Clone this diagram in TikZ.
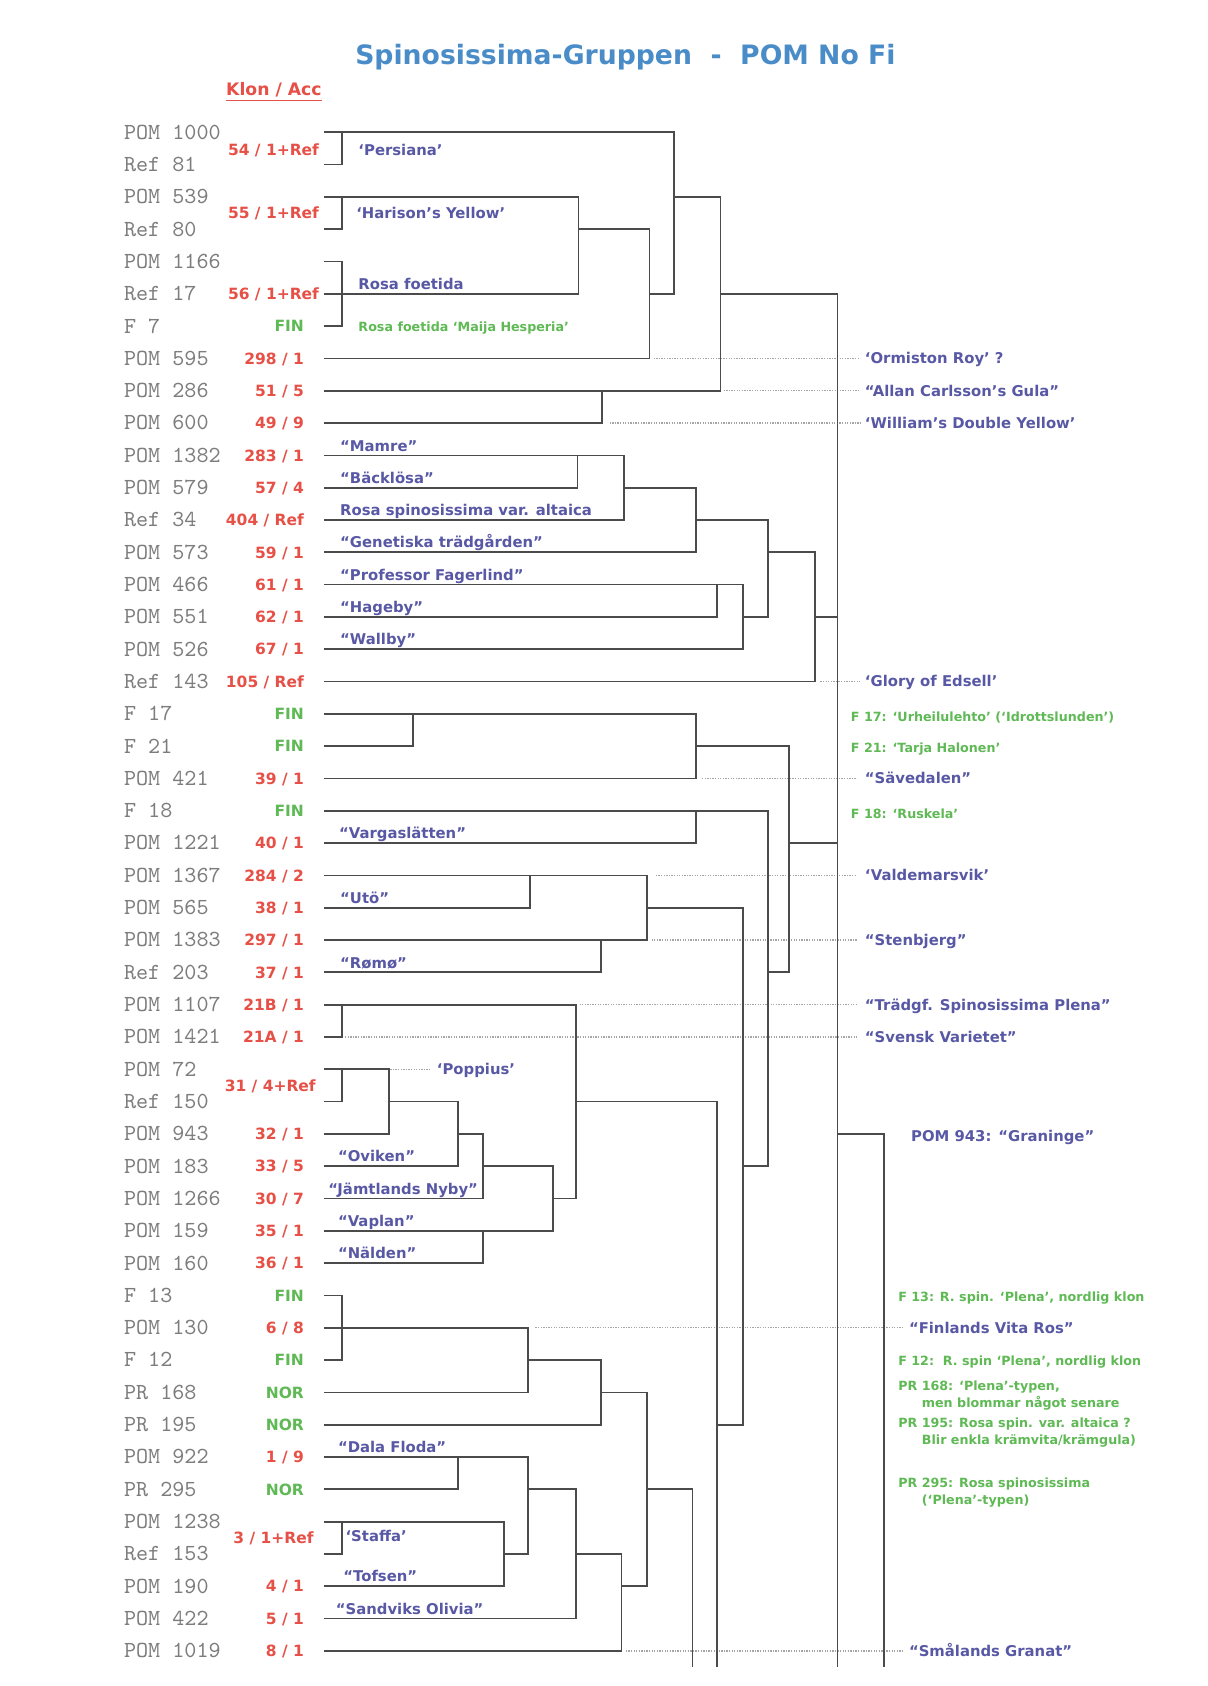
\documentclass[tikz,border=0pt]{standalone}
\usepackage{fontspec}
\setmainfont{DejaVu Sans}
\usepackage{tikz}
\definecolor{titleblue}{RGB}{74,140,200}
\definecolor{cvpurple}{RGB}{88,88,165}
\definecolor{accred}{RGB}{230,80,70}
\definecolor{fingreen}{RGB}{95,185,85}
\definecolor{leafgray}{RGB}{125,125,125}
\definecolor{linegray}{RGB}{75,75,75}
\definecolor{dotgray}{RGB}{165,165,165}

\begin{document}
\begin{tikzpicture}[x=0.5pt,y=-15.025pt,
  dline/.style={draw=linegray,line width=0.8pt},
  dotline/.style={draw=dotgray,line width=0.6pt,dash pattern=on 0.6pt off 0.6pt},
  leaflab/.style={anchor=west,inner sep=0pt,text=leafgray,font=\ttfamily\fontsize{10.7}{11}\selectfont,text height=6.4pt,text depth=0pt},
  acclab/.style={anchor=east,inner sep=0pt,text=accred,font=\bfseries\fontsize{7.2}{8}\selectfont,text height=5.3pt,text depth=0pt},
  finlab/.style={acclab,text=fingreen},
  cvlab/.style={anchor=west,inner sep=0pt,text=cvpurple,font=\bfseries\fontsize{6.9}{8}\selectfont,text height=5pt,text depth=0pt},
  notelab/.style={anchor=west,inner sep=0pt,text=fingreen,font=\bfseries\fontsize{5.9}{8}\selectfont,align=left}]

\useasboundingbox (0,-4.093) rectangle (1123,48.087);
\fill[white] (0,-4.093) rectangle (1123,48.087);

% Title
\node[anchor=west,inner sep=0pt,text=titleblue,font=\bfseries\fontsize{12.4}{14}\selectfont,text height=9pt,text depth=0pt] (title) at (330,-2.4) {Spinosissima-Gruppen\ \ -\ \ POM No Fi};
\node[anchor=base west,inner sep=0pt,text=accred,font=\bfseries\fontsize{8}{9}\selectfont] (hdr) at (210,-1.13) {\underline{Klon / Acc}};

%Dotted guide lines
\draw[dotline] (608,7) -- (800,7);
\draw[dotline] (673,8) -- (800,8);
\draw[dotline] (567,9) -- (800,9);
\draw[dotline] (763,17) -- (800,17);
\draw[dotline] (653,20) -- (797,20);
\draw[dotline] (610,23) -- (797,23);
\draw[dotline] (606,25) -- (797,25);
\draw[dotline] (539,27) -- (797,27);
\draw[dotline] (321,28) -- (797,28);
\draw[dotline] (363,29) -- (401,29);
\draw[dotline] (498,37) -- (839,37);
\draw[dotline] (582,47) -- (839,47);

%Straight Lines - top cluster
\draw[dline] (301,0) -- (627,0) -- (627,5) -- (604,5);
\draw[dline] (318,0) -- (318,1) -- (301,1);
\draw[dline] (301,2) -- (538,2) -- (538,5) -- (301,5);
\draw[dline] (318,2) -- (318,3) -- (301,3);
\draw[dline] (301,4) -- (318,4) -- (318,6) -- (301,6);
\draw[dline] (538,3) -- (604,3) -- (604,7) -- (301,7);
\draw[dline] (627,2) -- (670,2) -- (670,8) -- (301,8);
\draw[dline] (560,8) -- (560,9) -- (301,9);
\draw[dline] (670,5) -- (779,5) -- (779,47.5);
%Straight Lines - Mamre cluster
\draw[dline] (301,10) -- (580,10) -- (580,12) -- (301,12);
\draw[dline] (537,10) -- (537,11) -- (301,11);
\draw[dline] (580,11) -- (647,11) -- (647,13) -- (301,13);
\draw[dline] (647,12) -- (714,12) -- (714,15) -- (691,15);
\draw[dline] (301,14) -- (691,14) -- (691,16) -- (301,16);
\draw[dline] (667,14) -- (667,15) -- (301,15);
\draw[dline] (714,13) -- (758,13) -- (758,17) -- (301,17);
\draw[dline] (758,15) -- (779,15);
%Straight Lines - F 17 cluster
\draw[dline] (301,18) -- (647,18) -- (647,20) -- (301,20);
\draw[dline] (384,18) -- (384,19) -- (301,19);
\draw[dline] (647,19) -- (734,19) -- (734,26) -- (714,26);
\draw[dline] (734,22) -- (779,22);
\draw[dline] (301,21) -- (714,21) -- (714,32) -- (691,32);
\draw[dline] (647,21) -- (647,22) -- (301,22);
\draw[dline] (301,23) -- (602,23) -- (602,25) -- (301,25);
\draw[dline] (493,23) -- (493,24) -- (301,24);
\draw[dline] (602,24) -- (691,24) -- (691,40) -- (667,40);
\draw[dline] (559,25) -- (559,26) -- (301,26);
%Straight Lines - POM 1107 cluster
\draw[dline] (301,27) -- (536,27) -- (536,33) -- (514,33);
\draw[dline] (318,27) -- (318,28) -- (301,28);
\draw[dline] (536,30) -- (667,30) -- (667,47.5);
\draw[dline] (301,29) -- (362,29) -- (362,31) -- (301,31);
\draw[dline] (318,29) -- (318,30) -- (301,30);
\draw[dline] (362,30) -- (426,30) -- (426,32) -- (301,32);
\draw[dline] (426,31) -- (449,31) -- (449,33) -- (301,33);
\draw[dline] (449,32) -- (514,32) -- (514,34) -- (301,34);
\draw[dline] (449,34) -- (449,35) -- (301,35);
%Straight Lines - F 13 cluster
\draw[dline] (301,36) -- (318,36) -- (318,38) -- (301,38);
\draw[dline] (301,37) -- (491,37) -- (491,39) -- (301,39);
\draw[dline] (491,38) -- (559,38) -- (559,40) -- (301,40);
\draw[dline] (559,39) -- (602,39) -- (602,45) -- (578,45);
\draw[dline] (301,41) -- (491,41) -- (491,44) -- (469,44);
\draw[dline] (426,41) -- (426,42) -- (301,42);
\draw[dline] (301,43) -- (469,43) -- (469,45) -- (301,45);
\draw[dline] (318,43) -- (318,44) -- (301,44);
\draw[dline] (491,42) -- (536,42) -- (536,46) -- (301,46);
\draw[dline] (536,44) -- (578,44) -- (578,47) -- (301,47);
\draw[dline] (602,42) -- (644,42) -- (644,47.5);
\draw[dline] (779,31) -- (822,31) -- (822,47.5);

% Text Node - accessions
\foreach \lab [count=\i from 0] in {POM 1000,Ref 81,POM 539,Ref 80,POM 1166,Ref 17,F 7,POM 595,POM 286,POM 600,POM 1382,POM 579,Ref 34,POM 573,POM 466,POM 551,POM 526,Ref 143,F 17,F 21,POM 421,F 18,POM 1221,POM 1367,POM 565,POM 1383,Ref 203,POM 1107,POM 1421,POM 72,Ref 150,POM 943,POM 183,POM 1266,POM 159,POM 160,F 13,POM 130,F 12,PR 168,PR 195,POM 922,PR 295,POM 1238,Ref 153,POM 190,POM 422,POM 1019}
  \node[leaflab] (l\i) at (115,\i) {\lab};

% Text Node - klon / acc
\foreach \r/\t in {7/{298 / 1},8/{51 / 5},9/{49 / 9},10/{283 / 1},11/{57 / 4},12/{404 / Ref},13/{59 / 1},14/{61 / 1},15/{62 / 1},16/{67 / 1},17/{105 / Ref},20/{39 / 1},22/{40 / 1},23/{284 / 2},24/{38 / 1},25/{297 / 1},26/{37 / 1},27/{21B / 1},28/{21A / 1},31/{32 / 1},32/{33 / 5},33/{30 / 7},34/{35 / 1},35/{36 / 1},37/{6 / 8},41/{1 / 9},45/{4 / 1},46/{5 / 1},47/{8 / 1}}
  \node[acclab] (a\r) at (283,\r) {\t};
\node[acclab] (a0) at (297,0.55) {54 / 1+Ref};
\node[acclab] (a2) at (297,2.5) {55 / 1+Ref};
\node[acclab] (a5) at (297,5) {56 / 1+Ref};
\node[acclab] (a29) at (294,29.5) {31 / 4+Ref};
\node[acclab] (a43) at (292,43.5) {3 / 1+Ref};
\foreach \r/\t in {6/FIN,18/FIN,19/FIN,21/FIN,36/FIN,38/FIN,39/NOR,40/NOR,42/NOR}
  \node[finlab] (f\r) at (283,\r) {\t};

% Text Node - names on the tree
\node[cvlab] (persiana) at (333,0.55) {‘Persiana’};
\node[cvlab] (harison) at (331,2.5) {‘Harison’s Yellow’};
\node[cvlab] (foetida) at (333,4.7) {Rosa foetida};
\node[notelab] (maija) at (333,6.06) {Rosa foetida ‘Maija Hesperia’};
\node[cvlab] (mamre) at (316,9.7) {“Mamre”};
\node[cvlab] (backlosa) at (316,10.7) {“Bäcklösa”};
\node[cvlab] (altaica) at (316,11.7) {Rosa spinosissima var. altaica};
\node[cvlab] (genetiska) at (316,12.7) {“Genetiska trädgården”};
\node[cvlab] (fagerlind) at (316,13.7) {“Professor Fagerlind”};
\node[cvlab] (hageby) at (316,14.7) {“Hageby”};
\node[cvlab] (wallby) at (316,15.7) {“Wallby”};
\node[cvlab] (vargas) at (315,21.7) {“Vargaslätten”};
\node[cvlab] (uto) at (316,23.7) {“Utö”};
\node[cvlab] (romo) at (316,25.7) {“Rømø”};
\node[cvlab] (poppius) at (406,29) {‘Poppius’};
\node[cvlab] (oviken) at (314,31.7) {“Oviken”};
\node[cvlab] (nyby) at (305,32.7) {“Jämtlands Nyby”};
\node[cvlab] (vaplan) at (314,33.7) {“Vaplan”};
\node[cvlab] (nalden) at (314,34.7) {“Nälden”};
\node[cvlab] (dala) at (314,40.7) {“Dala Floda”};
\node[cvlab] (staffa) at (321,43.45) {‘Staffa’};
\node[cvlab] (tofsen) at (319,44.7) {“Tofsen”};
\node[cvlab] (sandviks) at (312,45.7) {“Sandviks Olivia”};

% Text Node - names on the right
\node[cvlab] (ormiston) at (804,7) {‘Ormiston Roy’ ?};
\node[cvlab] (allan) at (804,8) {“Allan Carlsson’s Gula”};
\node[cvlab] (william) at (804,9) {‘William’s Double Yellow’};
\node[cvlab] (glory) at (804,17) {‘Glory of Edsell’};
\node[cvlab] (savedalen) at (804,20) {“Sävedalen”};
\node[cvlab] (valdemarsvik) at (804,23) {‘Valdemarsvik’};
\node[cvlab] (stenbjerg) at (804,25) {“Stenbjerg”};
\node[cvlab] (tradgf) at (804,27) {“Trädgf. Spinosissima Plena”};
\node[cvlab] (svensk) at (804,28) {“Svensk Varietet”};
\node[cvlab] (graninge) at (847,31.07) {POM 943: “Graninge”};
\node[cvlab] (finlands) at (845,37) {“Finlands Vita Ros”};
\node[cvlab] (smalands) at (845,47) {“Smålands Granat”};

% Text Node - notes
\node[notelab] (n17) at (791,18.1) {F 17: ‘Urheilulehto’ (‘Idrottslunden’)};
\node[notelab] (n21) at (791,19.1) {F 21: ‘Tarja Halonen’};
\node[notelab] (n18) at (791,21.1) {F 18: ‘Ruskela’};
\node[notelab] (n13) at (835,36.07) {F 13: R. spin. ‘Plena’, nordlig klon};
\node[notelab] (n12) at (835,38.07) {F 12:\ \ R. spin ‘Plena’, nordlig klon};
\node[notelab] (n168) at (835,39.1) {PR 168: ‘Plena’-typen,\\\hspace*{11pt}men blommar något senare};
\node[notelab] (n195) at (835,40.25) {PR 195: Rosa spin. var. altaica ?\\\hspace*{11pt}Blir enkla krämvita/krämgula)};
\node[notelab] (n295) at (835,42.1) {PR 295: Rosa spinosissima\\\hspace*{11pt}(‘Plena’-typen)};

\end{tikzpicture}
\end{document}
